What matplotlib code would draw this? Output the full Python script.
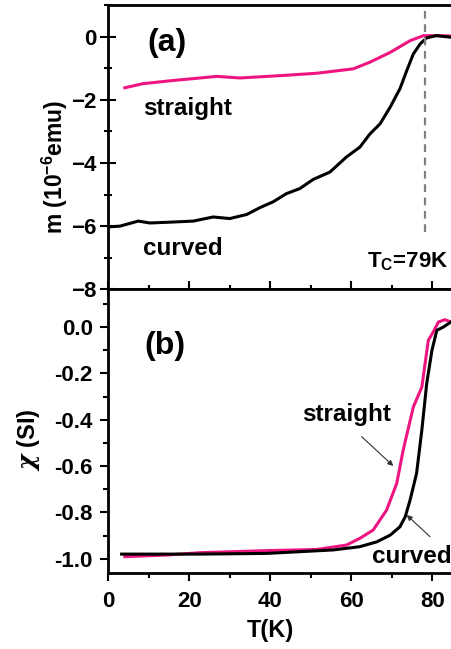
import numpy as np
import matplotlib
matplotlib.use('Agg')
import matplotlib.pyplot as plt
from matplotlib.ticker import MultipleLocator, FormatStrFormatter

plt.rcParams['font.family'] = ['Liberation Sans', 'DejaVu Sans']
plt.rcParams['font.weight'] = 'bold'
plt.rcParams['mathtext.fontset'] = 'custom'
plt.rcParams['mathtext.rm'] = 'Liberation Sans:bold'
plt.rcParams['mathtext.bf'] = 'Liberation Sans:bold'
plt.rcParams['mathtext.it'] = 'DejaVu Serif:italic'
plt.rcParams['mathtext.default'] = 'bf'

PINK = '#EE1581'

# panel (a): magnetic moment (10^-6 emu) vs T
Ta_straight = [4.1, 8.6, 16.0, 26.8, 32.5, 43.2, 51.5, 60.5, 64.6, 69.6, 74.5, 77.8, 81.0, 84.6]
ma_straight = [-1.62, -1.49, -1.39, -1.26, -1.31, -1.23, -1.16, -1.02, -0.81, -0.50, -0.13, 0.03, 0.03, 0.02]
Ta_curved = [0.5, 2.9, 7.4, 10.3, 16.0, 21.0, 25.9, 30.0, 34.2, 37.5, 40.7, 44.0, 47.3, 50.6,
             54.7, 58.8, 62.1, 64.6, 67.1, 69.6, 72.0, 73.7, 75.3, 77.0, 78.6, 81.0, 84.6]
ma_curved = [-6.02, -6.00, -5.84, -5.90, -5.87, -5.84, -5.71, -5.76, -5.63, -5.41, -5.23, -4.97,
             -4.81, -4.52, -4.29, -3.81, -3.50, -3.08, -2.76, -2.23, -1.65, -1.07, -0.55, -0.23,
             -0.04, 0.03, -0.02]
Tc = 78.3

# panel (b): susceptibility (SI) vs T
Tb_straight = [4.1, 14.4, 22.6, 39.1, 51.4, 58.8, 62.1, 65.4, 68.7, 71.2, 72.8, 75.3, 77.4,
               79.0, 80.2, 81.5, 83.1, 84.6]
chi_straight = [-0.991, -0.984, -0.974, -0.965, -0.960, -0.941, -0.912, -0.876, -0.790, -0.675,
                -0.531, -0.345, -0.259, -0.057, -0.022, 0.022, 0.032, 0.022]
Tb_curved = [3.3, 22.6, 39.1, 55.6, 62.1, 66.3, 69.6, 72.0, 73.3, 74.5, 76.1, 77.4, 78.6,
             79.9, 81.1, 82.7, 84.6]
chi_curved = [-0.980, -0.980, -0.977, -0.962, -0.948, -0.927, -0.898, -0.862, -0.819, -0.747,
              -0.632, -0.445, -0.244, -0.100, -0.014, 0.0, 0.022]

fig = plt.figure(figsize=(4.51, 6.49), dpi=100)
axa = fig.add_axes([0.240, 0.5542, 0.760, 0.4381])
axb = fig.add_axes([0.240, 0.1166, 0.760, 0.4376])

for ax in (axa, axb):
    for s in ('left', 'bottom', 'top'):
        ax.spines[s].set_linewidth(2.0)
    ax.spines['right'].set_visible(False)
    ax.set_xlim(0, 84.6)
    ax.xaxis.set_major_locator(MultipleLocator(20))
    ax.xaxis.set_minor_locator(MultipleLocator(10))

# ---- (a)
axa.plot(Ta_straight, ma_straight, color=PINK, lw=2.2)
axa.plot(Ta_curved, ma_curved, color='black', lw=2.2)
axa.plot([Tc, Tc], [-6.2, 1.0], '--', color='#808080', lw=1.6, dashes=(3.5, 2.5))
axa.set_ylim(-8, 1)
axa.yaxis.set_major_locator(MultipleLocator(2))
axa.yaxis.set_minor_locator(MultipleLocator(1))
axa.tick_params(which='both', direction='inout', width=1.5, labelsize=16, pad=3,
                top=False, right=False, labelbottom=False)
axa.tick_params(which='major', length=11)
axa.tick_params(which='minor', length=6)
axa.set_ylabel(r'm (10$^{-6}$emu)', fontsize=16.5, fontweight='bold',
               ha='center', va='center', rotation_mode='default')
axa.yaxis.set_label_coords(-0.155, 0.43)
axa.text(0.171, 0.865, '(a)', transform=axa.transAxes, fontsize=23, fontweight='bold',
         ha='center', va='center')
axa.text(0.232, 0.636, 'straight', transform=axa.transAxes, fontsize=17.5, fontweight='bold',
         ha='center', va='center')
axa.text(0.219, 0.145, 'curved', transform=axa.transAxes, fontsize=17.5, fontweight='bold',
         ha='center', va='center')
axa.text(0.992, 0.098, r'T$_\mathbf{C}$=79K', transform=axa.transAxes, fontsize=16,
         fontweight='bold', ha='right', va='center', clip_on=False)

# ---- (b)
axb.plot(Tb_straight, chi_straight, color=PINK, lw=2.2)
axb.plot(Tb_curved, chi_curved, color='black', lw=2.2)
axb.set_ylim(-1.063, 0.163)
axb.yaxis.set_major_locator(MultipleLocator(0.2))
axb.yaxis.set_minor_locator(MultipleLocator(0.1))
axb.yaxis.set_major_formatter(FormatStrFormatter('%.1f'))
axb.tick_params(which='both', direction='out', width=1.5, labelsize=16, top=False, right=False)
axb.tick_params(axis='y', pad=5)
axb.tick_params(axis='x', pad=7)
axb.tick_params(which='major', length=6)
axb.tick_params(which='minor', length=3.5)
axb.set_xticks([0, 20, 40, 60, 80])
axb.set_ylabel(r'$\mathit{\chi}$ (SI)', fontsize=17, fontweight='bold',
               ha='center', va='center', rotation_mode='default')
axb.yaxis.set_label_coords(-0.233, 0.471)
axb.set_xlabel('T(K)', fontsize=17, fontweight='bold', va='center')
axb.xaxis.set_label_coords(0.474, -0.2)
axb.text(0.166, 0.801, '(b)', transform=axb.transAxes, fontsize=23, fontweight='bold',
         ha='center', va='center')

# labels with thin arrows in (b)
axb.text(346.7, 649 - 415, 'straight', transform=None, fontsize=17.5, fontweight='bold',
         ha='center', va='center')
axb.annotate('', xy=(393.3, 649 - 466), xycoords='figure pixels',
             xytext=(361.7, 649 - 436.7), textcoords='figure pixels',
             arrowprops=dict(arrowstyle='-|>', color='#333333', lw=0.8, mutation_scale=8,
                             shrinkA=0, shrinkB=0))
axb.text(412, 649 - 556.7, 'curved', transform=None, fontsize=17.5, fontweight='bold',
         ha='center', va='center')
axb.annotate('', xy=(406.7, 649 - 515), xycoords='figure pixels',
             xytext=(430, 649 - 536.7), textcoords='figure pixels',
             arrowprops=dict(arrowstyle='-|>', color='#333333', lw=0.8, mutation_scale=8,
                             shrinkA=0, shrinkB=0))

fig.savefig('out.png', dpi=100)
